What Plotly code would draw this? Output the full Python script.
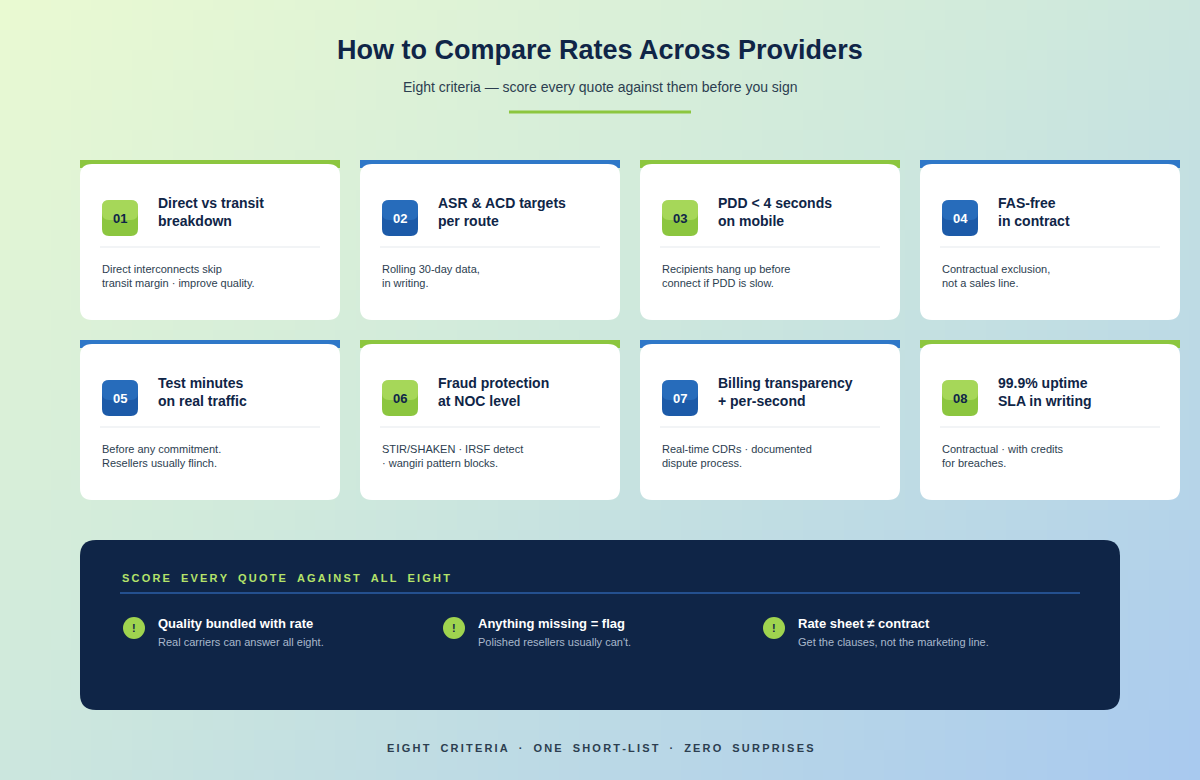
import numpy as np
import plotly.graph_objects as go

W, H = 1200, 780
numbers = ["01", "02", "03", "04", "05", "06", "07", "08"]
titles = ["Direct vs transit<br>breakdown", "ASR & ACD targets<br>per route", "PDD < 4 seconds<br>on mobile",
          "FAS-free<br>in contract", "Test minutes<br>on real traffic", "Fraud protection<br>at NOC level",
          "Billing transparency<br>+ per-second", "99.9% uptime<br>SLA in writing"]
descs = ["Direct interconnects skip<br>transit margin · improve quality.", "Rolling 30-day data,<br>in writing.",
         "Recipients hang up before<br>connect if PDD is slow.", "Contractual exclusion,<br>not a sales line.",
         "Before any commitment.<br>Resellers usually flinch.", "STIR/SHAKEN · IRSF detect<br>· wangiri pattern blocks.",
         "Real-time CDRs · documented<br>dispute process.", "Contractual · with credits<br>for breaches."]
accents = ["green", "blue", "green", "blue", "blue", "green", "blue", "green"]
panel_heading = "SCORE EVERY QUOTE AGAINST ALL EIGHT"
panel_titles = ["Quality bundled with rate", "Anything missing = flag", "Rate sheet ≠ contract"]
panel_subs = ["Real carriers can answer all eight.", "Polished resellers usually can't.",
              "Get the clauses, not the marketing line."]
footer = "EIGHT CRITERIA · ONE SHORT-LIST · ZERO SURPRISES"

NAVY = "#0f2547"
GREEN, GREEN_L = "#8cc63f", "#b7e36b"
BLUE, BLUE_D = "#2f78c8", "#1c5aa8"

def rrect(x0, y0, x1, y1, r):
    return (f"M{x0+r},{y0} L{x1-r},{y0} Q{x1},{y0} {x1},{y0+r} L{x1},{y1-r} Q{x1},{y1} {x1-r},{y1} "
            f"L{x0+r},{y1} Q{x0},{y1} {x0},{y1-r} L{x0},{y0+r} Q{x0},{y0} {x0+r},{y0} Z")

def spaced(s):
    return "\u2009".join(s).replace("\u2009 \u2009", "\u2002\u2002")

fig = go.Figure()
gx = np.linspace(0, W, 60); gy = np.linspace(0, H, 40)
X, Y = np.meshgrid(gx, gy)
Z = (X / W + Y / H) / 2
fig.add_trace(go.Heatmap(x=gx, y=gy, z=Z, showscale=False, hoverinfo="skip",
                         colorscale=[[0, "#eafad2"], [0.45, "#cfe9dc"], [1, "#a8c9ef"]]))

shapes, ann = [], []
def text(x, y, t, size, color, bold=False, xanchor="left", family="Liberation Sans, Arial"):
    ann.append(dict(x=x, y=y, text=f"<b>{t}</b>" if bold else t, showarrow=False, xanchor=xanchor,
                    yanchor="middle", align="left", font=dict(size=size, color=color, family=family)))

text(600, 50, "How to Compare Rates Across Providers", 27, NAVY, True, "center")
text(600, 87, "Eight criteria — score every quote against them before you sign", 14, "#2c3e50", False, "center")
shapes.append(dict(type="line", x0=509, x1=691, y0=112, y1=112, line=dict(color=GREEN, width=3)))

for i in range(8):
    col, row = i % 4, i // 4
    x0 = 80 + col * 280; y0 = 160 + row * 180
    x1, y1 = x0 + 260, y0 + 160
    acc = GREEN if accents[i] == "green" else BLUE
    for k, op in [(6, 0.04), (3, 0.05)]:
        shapes.append(dict(type="path", path=rrect(x0 - k, y0 - k + 4, x1 + k, y1 + k + 4, 14 + k),
                           fillcolor=f"rgba(40,80,60,{op})", line=dict(width=0), layer="below"))
    shapes.append(dict(type="rect", x0=x0, x1=x1, y0=y0, y1=y0 + 8, fillcolor=acc, line=dict(width=0)))
    shapes.append(dict(type="path", path=rrect(x0, y0 + 4, x1, y1, 12), fillcolor="white", line=dict(width=0)))
    bc = (GREEN_L, GREEN) if accents[i] == "green" else (BLUE, BLUE_D)
    shapes.append(dict(type="path", path=rrect(x0 + 22, y0 + 40, x0 + 58, y0 + 76, 7), fillcolor=bc[1], line=dict(width=0)))
    shapes.append(dict(type="path", path=rrect(x0 + 22, y0 + 40, x0 + 58, y0 + 60, 7), fillcolor=bc[0],
                       opacity=0.6, line=dict(width=0)))
    text(x0 + 40, y0 + 58, numbers[i], 13, NAVY if accents[i] == "green" else "white", True, "center")
    text(x0 + 76, y0 + 52, titles[i], 14, NAVY, True)
    shapes.append(dict(type="line", x0=x0 + 20, x1=x1 - 20, y0=y0 + 87, y1=y0 + 87, line=dict(color="#eef1f3", width=1.5)))
    text(x0 + 20, y0 + 116, descs[i], 11, "#2c3e50")

shapes.append(dict(type="path", path=rrect(80, 540, 1120, 710, 16), fillcolor=NAVY, line=dict(width=0)))
text(120, 578, spaced(panel_heading), 11, "#b5e36a", True)
shapes.append(dict(type="line", x0=120, x1=1080, y0=593, y1=593, line=dict(color="#24508f", width=2)))
for j in range(3):
    bx = 122 + j * 320
    shapes.append(dict(type="circle", x0=bx + 1, x1=bx + 23, y0=617, y1=639, fillcolor="#9fd44f", line=dict(width=0)))
    text(bx + 12, 628, "!", 11, NAVY, True, "center")
    text(bx + 34, 623, panel_titles[j], 13, "white", True)
    text(bx + 34, 642, panel_subs[j], 11, "#a9b8cc")

text(600, 748, spaced(footer), 11, "#2c3e50", True, "center")

fig.update_layout(width=W, height=H, margin=dict(l=0, r=0, t=0, b=0), shapes=shapes, annotations=ann,
                  plot_bgcolor="white", paper_bgcolor="white", showlegend=False,
                  xaxis=dict(range=[0, W], visible=False, fixedrange=True),
                  yaxis=dict(range=[H, 0], visible=False, fixedrange=True))
fig.write_html("out.html", config={"displayModeBar": False},
               post_script="document.body.style.margin='0';document.body.style.overflow='hidden';")
